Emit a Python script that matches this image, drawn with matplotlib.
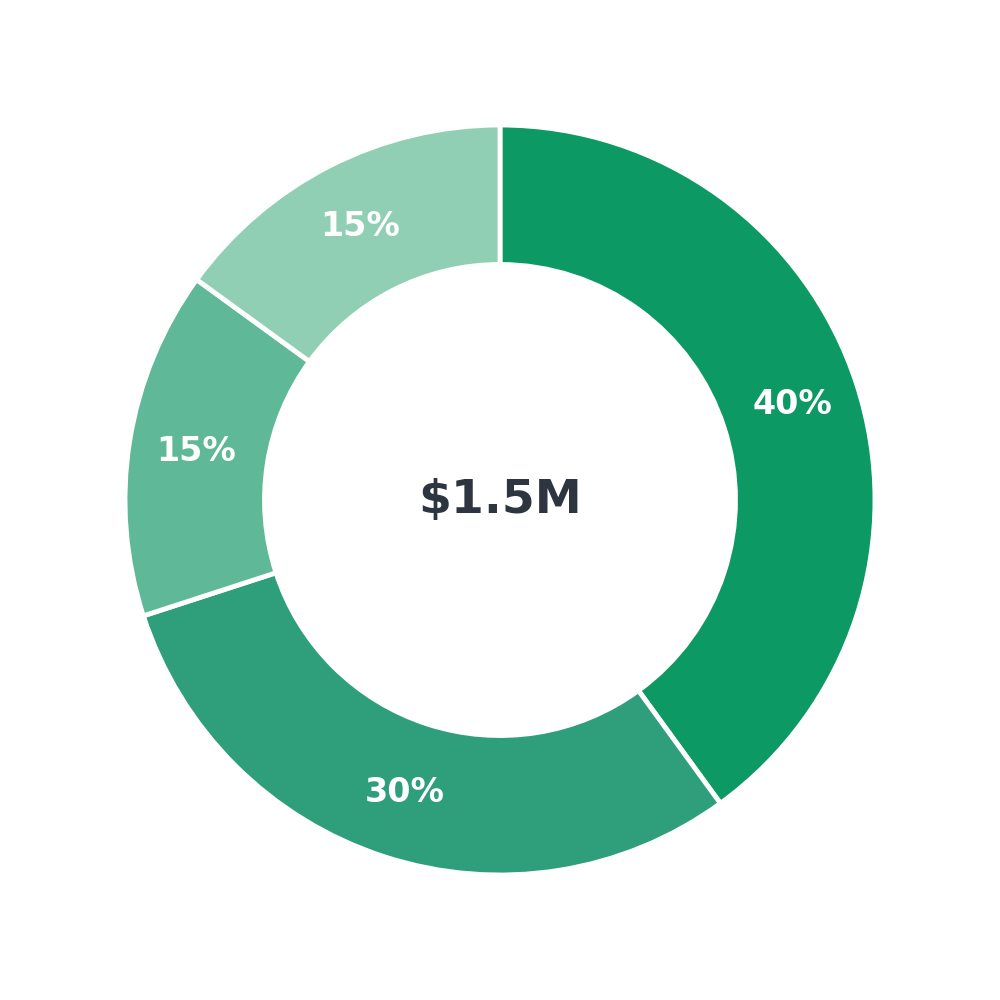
import matplotlib
matplotlib.use("Agg")
import matplotlib.pyplot as plt
import numpy as np

shares = [40, 30, 15, 15]
labels = ["40%", "30%", "15%", "15%"]
colors = ["#0c9963", "#2e9e7b", "#5fb898", "#90cfb4"]
center_text = "$1.5M"

fig = plt.figure(figsize=(10, 10), dpi=100)
ax = fig.add_axes([0, 0, 1, 1])

wedges, _ = ax.pie(shares, colors=colors, startangle=90, counterclock=False,
                   radius=1.0,
                   wedgeprops=dict(width=0.372, edgecolor="white", linewidth=3.5))

# labels in the middle of the ring
for w, lab in zip(wedges, labels):
    ang = np.deg2rad((w.theta1 + w.theta2) / 2)
    r = 0.82
    ax.text(r * np.cos(ang), r * np.sin(ang), lab, ha="center", va="center",
            color="white", fontsize=24, fontweight="bold")

ax.text(0, 0, center_text, ha="center", va="center", color="#2d3640",
        fontsize=34, fontweight="bold")

ax.set_xlim(-4 / 3, 4 / 3)
ax.set_ylim(-4 / 3, 4 / 3)
ax.set_aspect("equal")
ax.axis("off")

fig.savefig("out.png", dpi=100, facecolor="white")
